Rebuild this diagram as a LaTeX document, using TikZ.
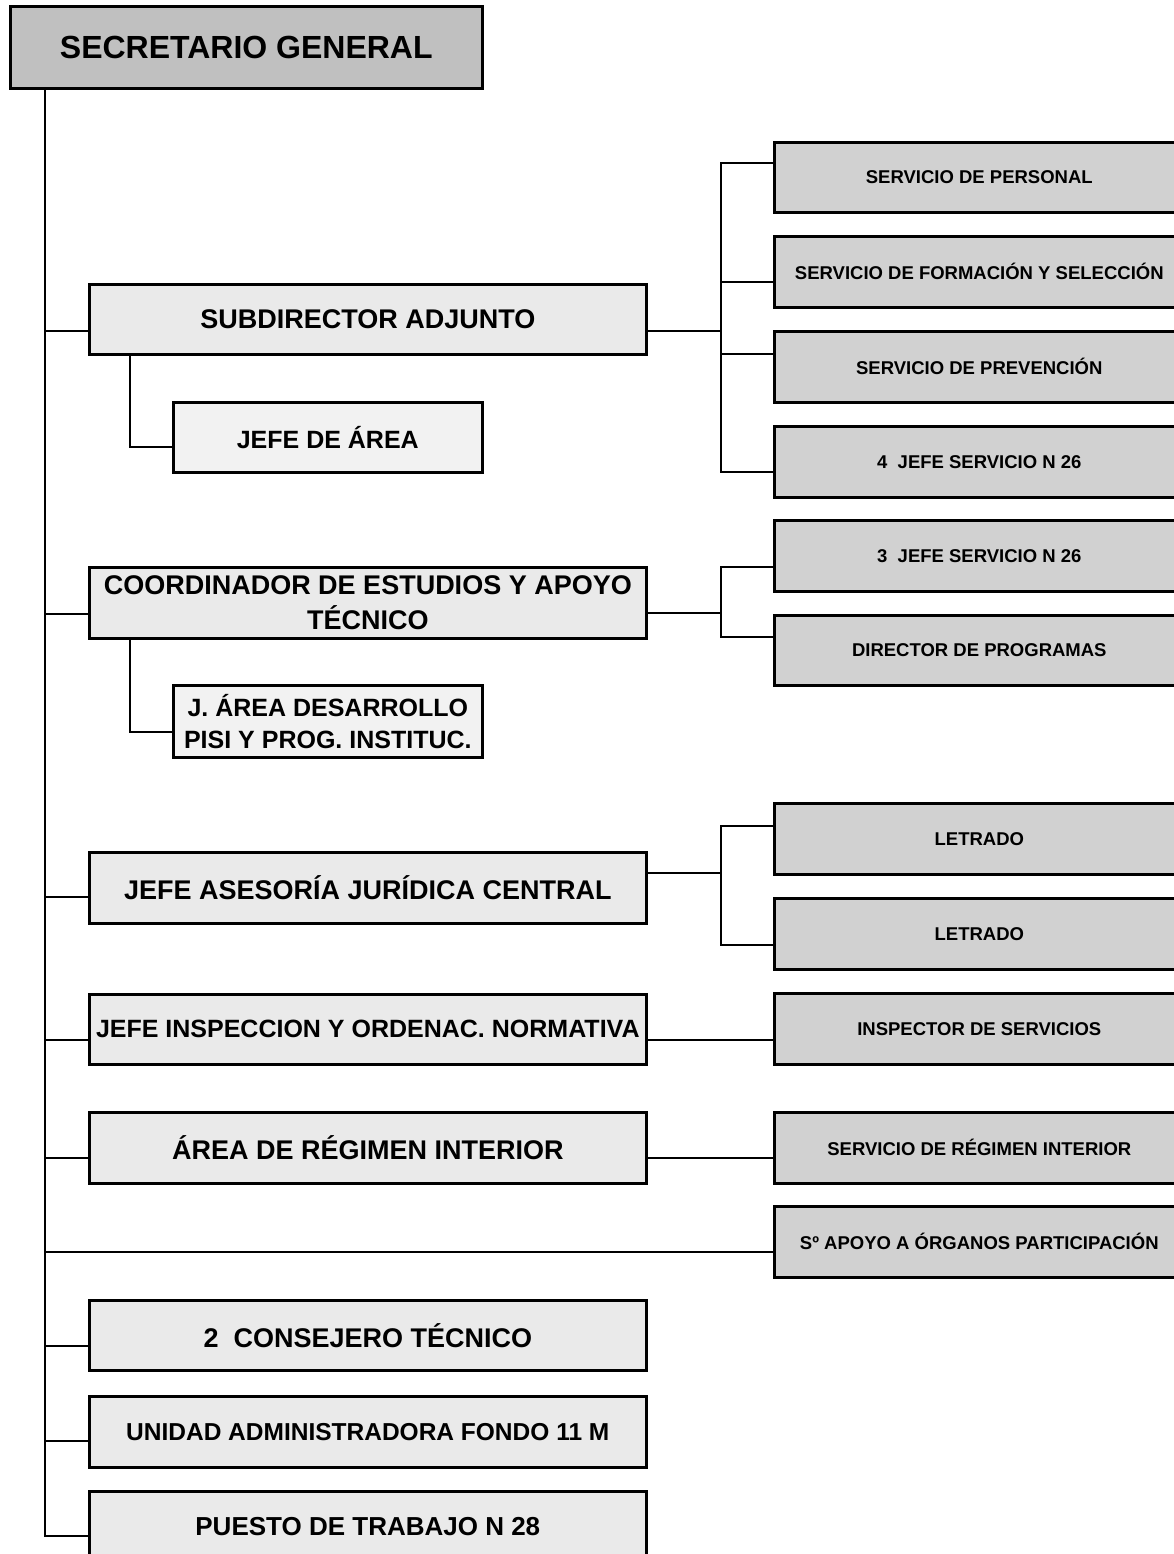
\documentclass[tikz,border=0pt]{standalone}
\usepackage{fontspec}
\setmainfont{Liberation Sans}
\definecolor{sgfill}{HTML}{C0C0C0}
\definecolor{midfill}{HTML}{EAEAEA}
\definecolor{subfill}{HTML}{F2F2F2}
\definecolor{rightfill}{HTML}{D1D1D1}
\begin{document}
\begin{tikzpicture}[x=1pt,y=-1pt,
  conn/.style={draw=black,line width=2pt},
  bx/.style={draw=black,line width=2.6pt,rectangle,inner sep=0pt,anchor=north west,align=center,text=black},
  lbox/.style={bx,fill=midfill,minimum width=557pt,minimum height=70pt,font=\fontsize{27}{35}\selectfont\bfseries},
  sbox/.style={bx,fill=subfill,minimum width=309pt,minimum height=71pt,font=\fontsize{25}{32}\selectfont\bfseries},
  rbox/.style={bx,fill=rightfill,minimum width=410pt,minimum height=71pt,font=\fontsize{18.5}{22}\selectfont\bfseries},
]
\useasboundingbox (0,0) rectangle (1174,1554);
\clip (0,0) rectangle (1174,1554);
\fill[white] (0,0) rectangle (1174,1554);

% top
\node[bx,fill=sgfill,minimum width=472pt,minimum height=82pt,font=\fontsize{32}{38}\selectfont\bfseries] (sg) at (9,5) {SECRETARIO GENERAL};

% left column
\node[lbox] (sub) at (88,283) {SUBDIRECTOR ADJUNTO};
\node[sbox,minimum height=70pt] (jarea) at (172,401) {JEFE DE ÁREA};
\node[lbox,minimum height=71pt] (coord) at (88,566) {COORDINADOR DE ESTUDIOS Y APOYO\\TÉCNICO};
\node[sbox,minimum height=72pt] (jdes) at (172,684) {J. ÁREA DESARROLLO\\PISI Y PROG. INSTITUC.};
\node[lbox,minimum height=71pt] (ases) at (88,851) {JEFE ASESORÍA JURÍDICA CENTRAL};
\node[lbox,font=\fontsize{25}{30}\selectfont\bfseries] (insp) at (88,993) {JEFE INSPECCION Y ORDENAC. NORMATIVA};
\node[lbox,minimum height=71pt] (regi) at (88,1111) {ÁREA DE RÉGIMEN INTERIOR};
\node[lbox] (cons) at (88,1299) {2\ \ CONSEJERO TÉCNICO};
\node[lbox,minimum height=71pt,font=\fontsize{24.5}{30}\selectfont\bfseries] (unid) at (88,1395) {UNIDAD ADMINISTRADORA FONDO 11 M};
\node[lbox,font=\fontsize{26}{31}\selectfont\bfseries] (pues) at (88,1490) {PUESTO DE TRABAJO N 28};

% right column
\node[rbox,minimum height=70pt] (per) at (773,141) {SERVICIO DE PERSONAL};
\node[rbox] (form) at (773,235) {SERVICIO DE FORMACIÓN Y SELECCIÓN};
\node[rbox] (prev) at (773,330) {SERVICIO DE PREVENCIÓN};
\node[rbox] (j4) at (773,425) {4\ \ JEFE SERVICIO N 26};
\node[rbox] (j3) at (773,519) {3\ \ JEFE SERVICIO N 26};
\node[rbox,minimum height=70pt] (dprog) at (773,614) {DIRECTOR DE PROGRAMAS};
\node[rbox] (let1) at (773,802) {LETRADO};
\node[rbox] (let2) at (773,897) {LETRADO};
\node[rbox] (inspr) at (773,992) {INSPECTOR DE SERVICIOS};
\node[rbox] (sri) at (773,1111) {SERVICIO DE RÉGIMEN INTERIOR};
\node[rbox] (sapo) at (773,1205) {Sº APOYO A ÓRGANOS PARTICIPACIÓN};

% trunk coordinates
\coordinate (tt) at (45,0);
\coordinate (l1) at (45,331);
\coordinate (l2) at (45,614);
\coordinate (l3) at (45,897);
\coordinate (l4) at (45,1040);
\coordinate (l5) at (45,1158);
\coordinate (l6) at (45,1252);
\coordinate (l7) at (45,1346);
\coordinate (l8) at (45,1441);
\coordinate (tb) at (45,1536);

\draw[conn] (tt |- sg.south) -- (tb) -- (tb -| pues.west);
\draw[conn] (l1) -- (l1 -| sub.west);
\draw[conn] (l2) -- (l2 -| coord.west);
\draw[conn] (l3) -- (l3 -| ases.west);
\draw[conn] (l4) -- (l4 -| insp.west);
\draw[conn] (l5) -- (l5 -| regi.west);
\draw[conn] (l6) -- (l6 -| sapo.west);
\draw[conn] (l7) -- (l7 -| cons.west);
\draw[conn] (l8) -- (l8 -| unid.west);

% sub-children
\coordinate (c1) at (130,447);
\draw[conn] (c1 |- sub.south) -- (c1) -- (c1 -| jarea.west);
\coordinate (c2) at (130,732);
\draw[conn] (c2 |- coord.south) -- (c2) -- (c2 -| jdes.west);

% right group 1
\coordinate (r1) at (721,331);
\coordinate (b1a) at (721,163);
\coordinate (b1b) at (721,282);
\coordinate (b1c) at (721,354);
\coordinate (b1d) at (721,472);
\draw[conn] (r1 -| sub.east) -- (r1);
\draw[conn] (b1a -| per.west) -- (b1a) -- (b1d) -- (b1d -| j4.west);
\draw[conn] (b1b) -- (b1b -| form.west);
\draw[conn] (b1c) -- (b1c -| prev.west);

% right group 2
\coordinate (r2) at (721,613);
\coordinate (b2a) at (721,567);
\coordinate (b2b) at (721,637);
\draw[conn] (r2 -| coord.east) -- (r2);
\draw[conn] (b2a -| j3.west) -- (b2a) -- (b2b) -- (b2b -| dprog.west);

% right group 3
\coordinate (r3) at (721,873);
\coordinate (b3a) at (721,826);
\coordinate (b3b) at (721,945);
\draw[conn] (r3 -| ases.east) -- (r3);
\draw[conn] (b3a -| let1.west) -- (b3a) -- (b3b) -- (b3b -| let2.west);

% single links
\draw[conn] (l4 -| insp.east) -- (l4 -| inspr.west);
\draw[conn] (l5 -| regi.east) -- (l5 -| sri.west);
\end{tikzpicture}
\end{document}
